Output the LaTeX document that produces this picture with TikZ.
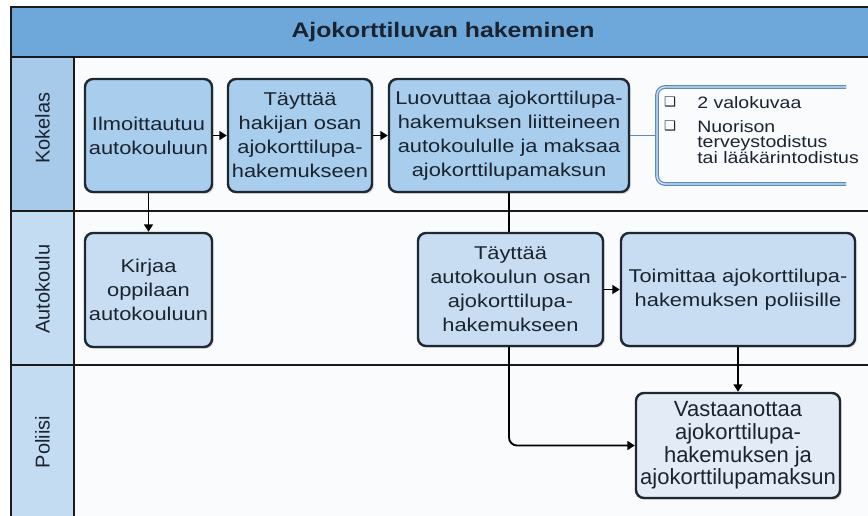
\documentclass[tikz,border=0pt]{standalone}
\usepackage{fontspec}
\setmainfont{Liberation Sans}
\newfontfamily\boxfont{Liberation Sans}[FakeStretch=1.18]
\newfontfamily\dingfont{DejaVu Sans}
\usetikzlibrary{arrows.meta,shadows}

\definecolor{titleblue}{HTML}{6EA7DA}
\definecolor{labeldark}{HTML}{A7CAEA}
\definecolor{labellight}{HTML}{C4DCF1}
\definecolor{kfill}{HTML}{A9CDEC}
\definecolor{afill}{HTML}{C8DDF1}
\definecolor{pfill}{HTML}{E3ECF6}
\definecolor{boxline}{HTML}{1E2833}
\definecolor{boxtext}{HTML}{1A2430}
\definecolor{lanebg}{HTML}{FAFBFC}
\definecolor{notedark}{HTML}{5A8CBC}
\definecolor{notelight}{HTML}{D6E6F4}
\definecolor{poolline}{HTML}{1A1A1A}

\begin{document}
\begin{tikzpicture}[x=0.75pt,y=-0.75pt,
  pool/.style={draw=poolline,line width=1.6pt},
  lanelabel/.style={rotate=90,font=\fontsize{15pt}{18pt}\selectfont,text=boxtext,inner sep=0pt},
  titletext/.style={font=\boxfont\bfseries\fontsize{15.75pt}{19pt}\selectfont,text=boxtext,inner sep=0pt},
  box/.style={draw=boxline,line width=1.8pt,rounded corners=6pt,align=center,inner sep=0pt,
    text=boxtext,font=\boxfont\fontsize{13.9pt}{18pt}\selectfont,
    drop shadow={opacity=0.22,shadow xshift=1.4pt,shadow yshift=-1.4pt}},
  kbox/.style={box,fill=kfill},
  abox/.style={box,fill=afill},
  pbox/.style={box,fill=pfill,font=\fontsize{16.5pt}{17pt}\selectfont},
  conn/.style={draw=black,line width=1.4pt,-{Triangle[length=5.5pt,width=6.5pt]}},
  link/.style={draw=black,line width=1.4pt},
  noteline/.style={draw=notedark,line width=1.4pt},
  notebracket/.style={draw=notedark,double=notelight,double distance=1pt,line width=0.9pt,rounded corners=6pt},
  notetext/.style={font=\boxfont\fontsize{12.4pt}{12pt}\selectfont,text=boxtext,inner sep=0pt,anchor=base west},
  bullet/.style={font=\dingfont\fontsize{10pt}{10pt}\selectfont,text=boxtext,inner sep=0pt}
]
\useasboundingbox (0,0) rectangle (868,515);
\clip (0,0) rectangle (868,515);

% pool background, title band and lane label column
\fill[white] (0,0) rectangle (868,515);
\fill[lanebg] (74,57) rectangle (880,520);
\fill[titleblue] (11,7) rectangle (880,57);
\fill[labeldark] (11,57) rectangle (74,211);
\fill[labellight] (11,211) rectangle (74,520);

% pool and lane borders
\draw[pool] (880,7) -- (11,7) -- (11,520);
\draw[pool] (11,57) -- (880,57);
\draw[pool] (11,211) -- (880,211);
\draw[pool] (11,365) -- (880,365);
\draw[pool] (74,57) -- (74,520);

\node[titletext] (title) at (443,32) {Ajokorttiluvan hakeminen};
\node[lanelabel] (kokelas) at (42.5,128) {Kokelas};
\node[lanelabel] (autokoulu) at (42.5,289) {Autokoulu};
\node[lanelabel] (poliisi) at (42.5,442) {Poliisi};

% Kokelas lane
\node[kbox,minimum width=95.25pt,minimum height=84.75pt] (ilm) at (148.5,135.5)
  {Ilmoittautuu\\autokouluun};
\node[kbox,minimum width=108pt,minimum height=84.75pt] (taytH) at (300,135.5)
  {Täyttää\\hakijan osan\\ajokorttilupa-\\hakemukseen};
\node[kbox,minimum width=180pt,minimum height=84.75pt] (luov) at (509,135.5)
  {Luovuttaa ajokorttilupa-\\hakemuksen liitteineen\\autokoululle ja maksaa\\ajokorttilupamaksun};

% Autokoulu lane
\node[abox,minimum width=95.25pt,minimum height=85.5pt] (kirj) at (148.5,290)
  {Kirjaa\\oppilaan\\autokouluun};
\node[abox,minimum width=138.75pt,minimum height=84.75pt] (taytA) at (510.5,289.5)
  {Täyttää\\autokoulun osan\\ajokorttilupa-\\hakemukseen};
\node[abox,minimum width=175.5pt,minimum height=84.75pt] (toim) at (738,289.5)
  {Toimittaa ajokorttilupa-\\hakemuksen poliisille};

% Poliisi lane
\node[pbox,minimum width=153pt,minimum height=78.75pt] (vast) at (738,445.5)
  {Vastaanottaa\\ajokorttilupa-\\hakemuksen ja\\ajokorttilupamaksun};

% attachment note
\coordinate (noteL) at (657,135.5);
\draw[noteline] (luov.east) -- (noteL);
\draw[notebracket] (846,87) -- (657,87) -- (657,184) -- (846,184);
\node[bullet] (b1) at (670,102) {❑};
\node[bullet] (b2) at (670,126) {❑};
\node[notetext] (n1) at (697,108) {2 valokuvaa};
\node[notetext] (n2) at (697,132) {Nuorison};
\node[notetext] (n3) at (697,147.5) {terveystodistus};
\node[notetext] (n4) at (697,163) {tai lääkärintodistus};

% flow
\draw[conn] (ilm) -- (taytH);
\draw[conn] (taytH) -- (luov);
\draw[conn] (ilm) -- (kirj);
\draw[link] (luov.south) -- (luov.south |- taytA.north);
\draw[conn] (taytA) -- (toim);
\draw[conn] (toim) -- (vast);
\draw[conn,rounded corners=6pt] (taytA.south -| luov.south) |- (vast.west);
\end{tikzpicture}
\end{document}
